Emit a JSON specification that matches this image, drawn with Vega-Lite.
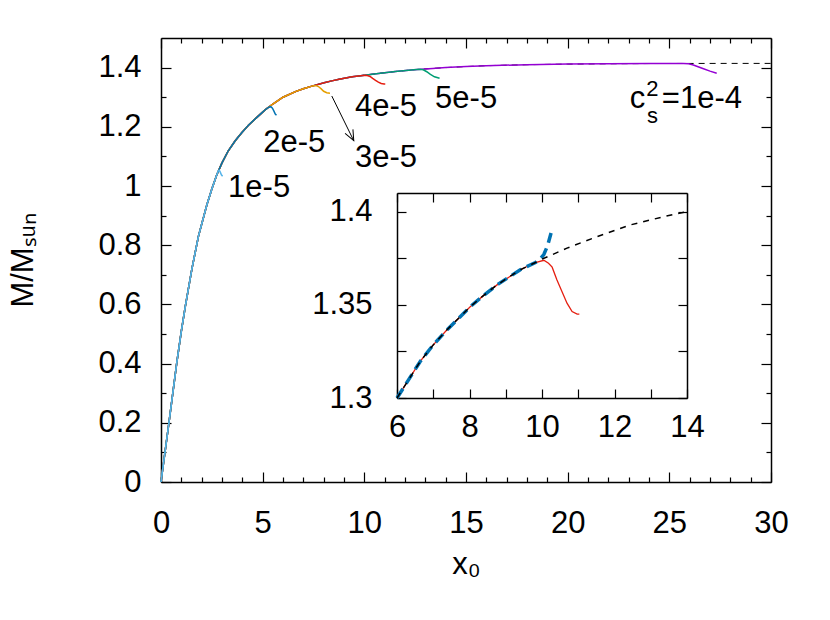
{
  "$schema": "https://vega.github.io/schema/vega-lite/v6.json",
  "width": 610,
  "height": 444,
  "autosize": "none",
  "padding": {"left": 161, "top": 38, "right": 59, "bottom": 138},
  "background": "white",
  "config": {
    "view": {"stroke": null},
    "font": "Liberation Sans",
    "axis": {
      "grid": false,
      "labelFont": "Liberation Sans",
      "labelFontSize": 31,
      "labelColor": "black",
      "titleFont": "Liberation Sans",
      "titleFontSize": 31,
      "titleFontWeight": "normal",
      "titleColor": "black",
      "domainColor": "black",
      "domainWidth": 1.5,
      "tickColor": "black",
      "tickWidth": 1.2,
      "labelFlush": false,
      "labelOverlap": false
    }
  },
  "datasets": {
    "curves": [
      {"s":"1e-4","x":0,"m":0},{"s":"1e-4","x":0.39,"m":0.2},{"s":"1e-4","x":0.77,"m":0.4},{"s":"1e-4","x":1.0,"m":0.51},{"s":"1e-4","x":1.2,"m":0.595},{"s":"1e-4","x":1.52,"m":0.72},{"s":"1e-4","x":1.84,"m":0.83},{"s":"1e-4","x":2.25,"m":0.935},{"s":"1e-4","x":2.5,"m":0.99},{"s":"1e-4","x":2.74,"m":1.037},{"s":"1e-4","x":3.0,"m":1.078},{"s":"1e-4","x":3.31,"m":1.119},{"s":"1e-4","x":3.65,"m":1.153},{"s":"1e-4","x":3.97,"m":1.18},{"s":"1e-4","x":4.3,"m":1.205},{"s":"1e-4","x":4.62,"m":1.226},{"s":"1e-4","x":5.12,"m":1.257},{"s":"1e-4","x":5.5,"m":1.277},{"s":"1e-4","x":6.0,"m":1.3},{"s":"1e-4","x":6.64,"m":1.3196},{"s":"1e-4","x":7.0,"m":1.3285},{"s":"1e-4","x":7.38,"m":1.3366},{"s":"1e-4","x":8.02,"m":1.349},{"s":"1e-4","x":8.4,"m":1.3552},{"s":"1e-4","x":8.76,"m":1.3607},{"s":"1e-4","x":9.4,"m":1.3688},{"s":"1e-4","x":9.82,"m":1.3727},{"s":"1e-4","x":10.0,"m":1.3745},{"s":"1e-4","x":10.69,"m":1.3804},{"s":"1e-4","x":11.52,"m":1.3866},{"s":"1e-4","x":12.44,"m":1.3929},{"s":"1e-4","x":13.36,"m":1.3973},{"s":"1e-4","x":14.0,"m":1.4},{"s":"1e-4","x":15.0,"m":1.4035},{"s":"1e-4","x":16.0,"m":1.4065},{"s":"1e-4","x":18.0,"m":1.4098},{"s":"1e-4","x":20.0,"m":1.4118},{"s":"1e-4","x":22.0,"m":1.413},{"s":"1e-4","x":24.0,"m":1.4137},{"s":"1e-4","x":25.7,"m":1.414},{"s":"1e-4","x":25.95,"m":1.413},{"s":"1e-4","x":26.18,"m":1.409},{"s":"1e-4","x":26.68,"m":1.396},{"s":"1e-4","x":27.0,"m":1.388},{"s":"1e-4","x":27.33,"m":1.381},

      {"s":"5e-5","x":0,"m":0},{"s":"5e-5","x":0.39,"m":0.2},{"s":"5e-5","x":0.77,"m":0.4},{"s":"5e-5","x":1.0,"m":0.51},{"s":"5e-5","x":1.2,"m":0.595},{"s":"5e-5","x":1.52,"m":0.72},{"s":"5e-5","x":1.84,"m":0.83},{"s":"5e-5","x":2.25,"m":0.935},{"s":"5e-5","x":2.5,"m":0.99},{"s":"5e-5","x":2.74,"m":1.037},{"s":"5e-5","x":3.0,"m":1.078},{"s":"5e-5","x":3.31,"m":1.119},{"s":"5e-5","x":3.65,"m":1.153},{"s":"5e-5","x":3.97,"m":1.18},{"s":"5e-5","x":4.3,"m":1.205},{"s":"5e-5","x":4.62,"m":1.226},{"s":"5e-5","x":5.12,"m":1.257},{"s":"5e-5","x":5.5,"m":1.277},{"s":"5e-5","x":6.0,"m":1.3},{"s":"5e-5","x":6.64,"m":1.3196},{"s":"5e-5","x":7.0,"m":1.3285},{"s":"5e-5","x":7.38,"m":1.3366},{"s":"5e-5","x":8.02,"m":1.349},{"s":"5e-5","x":8.4,"m":1.3552},{"s":"5e-5","x":8.76,"m":1.3607},{"s":"5e-5","x":9.4,"m":1.3688},{"s":"5e-5","x":9.82,"m":1.3727},{"s":"5e-5","x":10.0,"m":1.3745},{"s":"5e-5","x":10.69,"m":1.3804},{"s":"5e-5","x":11.52,"m":1.3866},{"s":"5e-5","x":12.44,"m":1.3929},{"s":"5e-5","x":12.74,"m":1.3945},{"s":"5e-5","x":12.9,"m":1.3925},{"s":"5e-5","x":13.07,"m":1.386},{"s":"5e-5","x":13.25,"m":1.377},{"s":"5e-5","x":13.45,"m":1.369},{"s":"5e-5","x":13.7,"m":1.364},

      {"s":"4e-5","x":0,"m":0},{"s":"4e-5","x":0.39,"m":0.2},{"s":"4e-5","x":0.77,"m":0.4},{"s":"4e-5","x":1.0,"m":0.51},{"s":"4e-5","x":1.2,"m":0.595},{"s":"4e-5","x":1.52,"m":0.72},{"s":"4e-5","x":1.84,"m":0.83},{"s":"4e-5","x":2.25,"m":0.935},{"s":"4e-5","x":2.5,"m":0.99},{"s":"4e-5","x":2.74,"m":1.037},{"s":"4e-5","x":3.0,"m":1.078},{"s":"4e-5","x":3.31,"m":1.119},{"s":"4e-5","x":3.65,"m":1.153},{"s":"4e-5","x":3.97,"m":1.18},{"s":"4e-5","x":4.3,"m":1.205},{"s":"4e-5","x":4.62,"m":1.226},{"s":"4e-5","x":5.12,"m":1.257},{"s":"4e-5","x":5.5,"m":1.277},{"s":"4e-5","x":6.0,"m":1.3},{"s":"4e-5","x":6.64,"m":1.3196},{"s":"4e-5","x":7.0,"m":1.3285},{"s":"4e-5","x":7.38,"m":1.3366},{"s":"4e-5","x":8.02,"m":1.349},{"s":"4e-5","x":8.4,"m":1.3552},{"s":"4e-5","x":8.76,"m":1.3607},{"s":"4e-5","x":9.4,"m":1.3688},{"s":"4e-5","x":9.82,"m":1.3727},{"s":"4e-5","x":10.05,"m":1.3739},{"s":"4e-5","x":10.18,"m":1.3723},{"s":"4e-5","x":10.28,"m":1.3702},{"s":"4e-5","x":10.41,"m":1.3634},{"s":"4e-5","x":10.55,"m":1.3571},{"s":"4e-5","x":10.69,"m":1.3509},{"s":"4e-5","x":10.83,"m":1.3464},{"s":"4e-5","x":10.97,"m":1.345},{"s":"4e-5","x":11.03,"m":1.345},

      {"s":"3e-5","x":0,"m":0},{"s":"3e-5","x":0.39,"m":0.2},{"s":"3e-5","x":0.77,"m":0.4},{"s":"3e-5","x":1.0,"m":0.51},{"s":"3e-5","x":1.2,"m":0.595},{"s":"3e-5","x":1.52,"m":0.72},{"s":"3e-5","x":1.84,"m":0.83},{"s":"3e-5","x":2.25,"m":0.935},{"s":"3e-5","x":2.5,"m":0.99},{"s":"3e-5","x":2.74,"m":1.037},{"s":"3e-5","x":3.0,"m":1.078},{"s":"3e-5","x":3.31,"m":1.119},{"s":"3e-5","x":3.65,"m":1.153},{"s":"3e-5","x":3.97,"m":1.18},{"s":"3e-5","x":4.3,"m":1.205},{"s":"3e-5","x":4.62,"m":1.226},{"s":"3e-5","x":5.12,"m":1.257},{"s":"3e-5","x":5.5,"m":1.277},{"s":"3e-5","x":6.0,"m":1.3},{"s":"3e-5","x":6.64,"m":1.3196},{"s":"3e-5","x":7.0,"m":1.3285},{"s":"3e-5","x":7.38,"m":1.3366},{"s":"3e-5","x":7.5,"m":1.3385},{"s":"3e-5","x":7.62,"m":1.339},{"s":"3e-5","x":7.74,"m":1.336},{"s":"3e-5","x":7.88,"m":1.328},{"s":"3e-5","x":8.0,"m":1.32},{"s":"3e-5","x":8.15,"m":1.315},{"s":"3e-5","x":8.31,"m":1.313},

      {"s":"2e-5","x":0,"m":0},{"s":"2e-5","x":0.39,"m":0.2},{"s":"2e-5","x":0.77,"m":0.4},{"s":"2e-5","x":1.0,"m":0.51},{"s":"2e-5","x":1.2,"m":0.595},{"s":"2e-5","x":1.52,"m":0.72},{"s":"2e-5","x":1.84,"m":0.83},{"s":"2e-5","x":2.25,"m":0.935},{"s":"2e-5","x":2.5,"m":0.99},{"s":"2e-5","x":2.74,"m":1.037},{"s":"2e-5","x":3.0,"m":1.078},{"s":"2e-5","x":3.31,"m":1.119},{"s":"2e-5","x":3.65,"m":1.153},{"s":"2e-5","x":3.97,"m":1.18},{"s":"2e-5","x":4.3,"m":1.205},{"s":"2e-5","x":4.62,"m":1.226},{"s":"2e-5","x":5.12,"m":1.257},{"s":"2e-5","x":5.3,"m":1.266},{"s":"2e-5","x":5.4,"m":1.268},{"s":"2e-5","x":5.48,"m":1.263},{"s":"2e-5","x":5.56,"m":1.252},{"s":"2e-5","x":5.62,"m":1.243},{"s":"2e-5","x":5.68,"m":1.239},

      {"s":"1e-5","x":0,"m":0},{"s":"1e-5","x":0.39,"m":0.2},{"s":"1e-5","x":0.77,"m":0.4},{"s":"1e-5","x":1.0,"m":0.51},{"s":"1e-5","x":1.2,"m":0.595},{"s":"1e-5","x":1.52,"m":0.72},{"s":"1e-5","x":1.84,"m":0.83},{"s":"1e-5","x":2.25,"m":0.935},{"s":"1e-5","x":2.5,"m":0.99},{"s":"1e-5","x":2.74,"m":1.037},{"s":"1e-5","x":2.82,"m":1.052},{"s":"1e-5","x":2.87,"m":1.053},{"s":"1e-5","x":2.92,"m":1.046},{"s":"1e-5","x":2.97,"m":1.038},{"s":"1e-5","x":3.03,"m":1.033},

      {"s":"ref","x":0,"m":0},{"s":"ref","x":0.39,"m":0.2},{"s":"ref","x":0.77,"m":0.4},{"s":"ref","x":1.0,"m":0.51},{"s":"ref","x":1.2,"m":0.595},{"s":"ref","x":1.52,"m":0.72},{"s":"ref","x":1.84,"m":0.83},{"s":"ref","x":2.25,"m":0.935},{"s":"ref","x":2.5,"m":0.99},{"s":"ref","x":2.74,"m":1.037},{"s":"ref","x":3.0,"m":1.078},{"s":"ref","x":3.31,"m":1.119},{"s":"ref","x":3.65,"m":1.153},{"s":"ref","x":3.97,"m":1.18},{"s":"ref","x":4.3,"m":1.205},{"s":"ref","x":4.62,"m":1.226},{"s":"ref","x":5.12,"m":1.257},{"s":"ref","x":5.5,"m":1.277},{"s":"ref","x":6.0,"m":1.3},{"s":"ref","x":6.64,"m":1.3196},{"s":"ref","x":7.0,"m":1.3285},{"s":"ref","x":7.38,"m":1.3366},{"s":"ref","x":8.02,"m":1.349},{"s":"ref","x":8.4,"m":1.3552},{"s":"ref","x":8.76,"m":1.3607},{"s":"ref","x":9.4,"m":1.3688},{"s":"ref","x":9.82,"m":1.3727},{"s":"ref","x":10.0,"m":1.3745},{"s":"ref","x":10.69,"m":1.3804},{"s":"ref","x":11.52,"m":1.3866},{"s":"ref","x":12.44,"m":1.3929},{"s":"ref","x":13.36,"m":1.3973},{"s":"ref","x":14.0,"m":1.4},{"s":"ref","x":15.0,"m":1.4035},{"s":"ref","x":16.0,"m":1.4065},{"s":"ref","x":18.0,"m":1.4098},{"s":"ref","x":20.0,"m":1.4118},{"s":"ref","x":22.0,"m":1.413},{"s":"ref","x":24.0,"m":1.4137},{"s":"ref","x":25.7,"m":1.414},{"s":"ref","x":28.0,"m":1.4142},{"s":"ref","x":30.0,"m":1.4142},

      {"s":"alt","x":6.0,"m":1.3},{"s":"alt","x":6.64,"m":1.3196},{"s":"alt","x":7.0,"m":1.3285},{"s":"alt","x":7.38,"m":1.3366},{"s":"alt","x":8.02,"m":1.349},{"s":"alt","x":8.4,"m":1.3552},{"s":"alt","x":8.76,"m":1.3607},{"s":"alt","x":9.4,"m":1.3688},{"s":"alt","x":9.82,"m":1.3727},{"s":"alt","x":9.95,"m":1.3745},{"s":"alt","x":10.05,"m":1.377},{"s":"alt","x":10.15,"m":1.3815},{"s":"alt","x":10.25,"m":1.3885}
    ],
    "labels": [
      {"t":"1e-5","x":3.3,"y":0.963,"k":"big"},
      {"t":"2e-5","x":5.03,"y":1.116,"k":"big"},
      {"t":"3e-5","x":9.54,"y":1.065,"k":"big"},
      {"t":"4e-5","x":9.54,"y":1.236,"k":"big"},
      {"t":"5e-5","x":13.48,"y":1.262,"k":"big"},
      {"t":"c","x":23.05,"y":1.2625,"k":"big"},
      {"t":"=1e-4","x":24.63,"y":1.2625,"k":"big"},
      {"t":"2","x":23.86,"y":1.303,"k":"small"},
      {"t":"s","x":23.9,"y":1.214,"k":"small"}
    ],
    "arrow": [
      {"x":8.4,"y":1.304,"x2":9.48,"y2":1.153}
    ]
  },
  "resolve": {"scale": {"x": "independent", "y": "independent"}},
  "layer": [
    {
      "data": {"name": "curves"},
      "transform": [{"filter": "datum.s == 'ref'"}],
      "mark": {"type": "line", "strokeWidth": 1, "color": "black", "strokeDash": [6, 5]},
      "encoding": {
        "x": {"field": "x", "type": "quantitative",
          "scale": {"domain": [0, 30], "nice": false, "zero": false},
          "axis": {"orient": "bottom", "values": [1,2,3,4,6,7,8,9,11,12,13,14,16,17,18,19,21,22,23,24,26,27,28,29], "tickSize": -5, "labels": false, "domain": false, "title": null}},
        "y": {"field": "m", "type": "quantitative",
          "scale": {"domain": [0, 1.5], "nice": false, "zero": false},
          "axis": {"orient": "left", "values": [0.1,0.3,0.5,0.7,0.9,1.1,1.3], "tickSize": -5, "labels": false, "domain": false, "title": null}}
      }
    },
    {
      "data": {"name": "curves"},
      "transform": [{"filter": "indexof(['1e-4','5e-5','4e-5','3e-5','2e-5','1e-5'], datum.s) >= 0"}],
      "mark": {"type": "line", "strokeWidth": 1.5},
      "encoding": {
        "x": {"field": "x", "type": "quantitative",
          "scale": {"domain": [0, 30], "nice": false, "zero": false},
          "axis": {"orient": "bottom", "values": [0,5,10,15,20,25,30], "format": "d", "tickSize": -10, "labelPadding": 36, "title": "x₀", "titlePadding": 11}},
        "y": {"field": "m", "type": "quantitative",
          "scale": {"domain": [0, 1.5], "nice": false, "zero": false},
          "axis": {"orient": "left", "values": [0,0.2,0.4,0.6,0.8,1,1.2,1.4], "format": "~g", "tickSize": -10, "labelPadding": 30, "title": "M/Mₛᵤₙ", "titlePadding": 58}},
        "color": {"field": "s", "type": "nominal", "legend": null,
          "scale": {"domain": ["1e-4","5e-5","4e-5","3e-5","2e-5","1e-5","alt"],
                    "range": ["#9400d3","#009e73","#e51e10","#e69f00","#0072b2","#56b4e9","#0072b2"]}}
      }
    },
    {
      "data": {"name": "labels"},
      "transform": [{"filter": "datum.k == 'big'"}],
      "mark": {"type": "text", "align": "left", "baseline": "alphabetic", "fontSize": 31, "font": "Liberation Sans", "color": "black"},
      "encoding": {
        "x": {"field": "x", "type": "quantitative",
          "scale": {"domain": [0, 30], "nice": false, "zero": false},
          "axis": {"orient": "top", "values": [0,5,10,15,20,25,30], "tickSize": -10, "labels": false, "title": null}},
        "y": {"field": "y", "type": "quantitative",
          "scale": {"domain": [0, 1.5], "nice": false, "zero": false},
          "axis": {"orient": "right", "values": [0,0.2,0.4,0.6,0.8,1,1.2,1.4], "tickSize": -10, "labels": false, "title": null}},
        "text": {"field": "t"}
      }
    },
    {
      "data": {"name": "arrow"},
      "mark": {"type": "rule", "color": "black", "strokeWidth": 1},
      "encoding": {
        "x": {"field": "x", "type": "quantitative",
          "scale": {"domain": [0, 30], "nice": false, "zero": false},
          "axis": {"orient": "top", "values": [1,2,3,4,6,7,8,9,11,12,13,14,16,17,18,19,21,22,23,24,26,27,28,29], "tickSize": -5, "labels": false, "domain": false, "title": null}},
        "y": {"field": "y", "type": "quantitative",
          "scale": {"domain": [0, 1.5], "nice": false, "zero": false},
          "axis": {"orient": "right", "values": [0.1,0.3,0.5,0.7,0.9,1.1,1.3], "tickSize": -5, "labels": false, "domain": false, "title": null}},
        "x2": {"field": "x2"},
        "y2": {"field": "y2"}
      }
    },
    {
      "data": {"name": "arrow"},
      "mark": {"type": "point", "shape": "M -1 -0.42 L 0 0 L -1 0.42", "angle": 63, "size": 440, "filled": false, "stroke": "black", "strokeWidth": 1, "opacity": 1},
      "encoding": {
        "x": {"field": "x2", "type": "quantitative", "scale": {"domain": [0, 30], "nice": false, "zero": false}, "axis": null},
        "y": {"field": "y2", "type": "quantitative", "scale": {"domain": [0, 1.5], "nice": false, "zero": false}, "axis": null}
      }
    },
    {
      "data": {"name": "labels"},
      "transform": [{"filter": "datum.k == 'small'"}],
      "mark": {"type": "text", "align": "left", "baseline": "alphabetic", "fontSize": 22, "font": "Liberation Sans", "color": "black"},
      "encoding": {
        "x": {"field": "x", "type": "quantitative", "scale": {"domain": [0, 30], "nice": false, "zero": false}, "axis": null},
        "y": {"field": "y", "type": "quantitative", "scale": {"domain": [0, 1.5], "nice": false, "zero": false}, "axis": null},
        "text": {"field": "t"}
      }
    },
    {
      "data": {"name": "curves"},
      "transform": [{"filter": "datum.s == '4e-5' && datum.x >= 6"}],
      "mark": {"type": "line", "strokeWidth": 1.3},
      "encoding": {
        "x": {"field": "x", "type": "quantitative",
          "scale": {"domain": [6, 14], "range": [236, 526], "nice": false, "zero": false},
          "axis": {"orient": "bottom", "offset": -84, "values": [6,7,8,9,10,11,12,13,14], "labelExpr": "datum.value % 2 == 0 ? format(datum.value, 'd') : ''", "tickSize": -9, "labelPadding": 23, "title": null}},
        "y": {"field": "m", "type": "quantitative",
          "scale": {"domain": [1.3, 1.41], "range": [360, 155], "nice": false, "zero": false},
          "axis": {"orient": "left", "offset": -236, "values": [1.3,1.325,1.35,1.375,1.4], "labelExpr": "(round(datum.value * 1000) % 50 == 0) ? format(datum.value, '~g') : ''", "tickSize": -9, "labelPadding": 34, "title": null}},
        "color": {"field": "s", "type": "nominal", "legend": null}
      }
    },
    {
      "data": {"name": "curves"},
      "transform": [{"filter": "datum.s == 'alt'"}],
      "mark": {"type": "line", "strokeWidth": 3.5, "strokeDash": [11, 6]},
      "encoding": {
        "x": {"field": "x", "type": "quantitative",
          "scale": {"domain": [6, 14], "range": [236, 526], "nice": false, "zero": false},
          "axis": {"orient": "top", "offset": -155, "values": [6,7,8,9,10,11,12,13,14], "tickSize": -9, "labels": false, "title": null}},
        "y": {"field": "m", "type": "quantitative",
          "scale": {"domain": [1.3, 1.41], "range": [360, 155], "nice": false, "zero": false},
          "axis": {"orient": "right", "offset": -84, "values": [1.3,1.325,1.35,1.375,1.4], "tickSize": -9, "labels": false, "title": null}},
        "color": {"field": "s", "type": "nominal", "legend": null}
      }
    },
    {
      "data": {"name": "curves"},
      "transform": [{"filter": "datum.s == 'ref' && datum.x >= 6 && datum.x <= 14"}],
      "mark": {"type": "line", "strokeWidth": 1.5, "color": "black", "strokeDash": [6, 6]},
      "encoding": {
        "x": {"field": "x", "type": "quantitative", "scale": {"domain": [6, 14], "range": [236, 526], "nice": false, "zero": false}, "axis": null},
        "y": {"field": "m", "type": "quantitative", "scale": {"domain": [1.3, 1.41], "range": [360, 155], "nice": false, "zero": false}, "axis": null}
      }
    }
  ]
}
